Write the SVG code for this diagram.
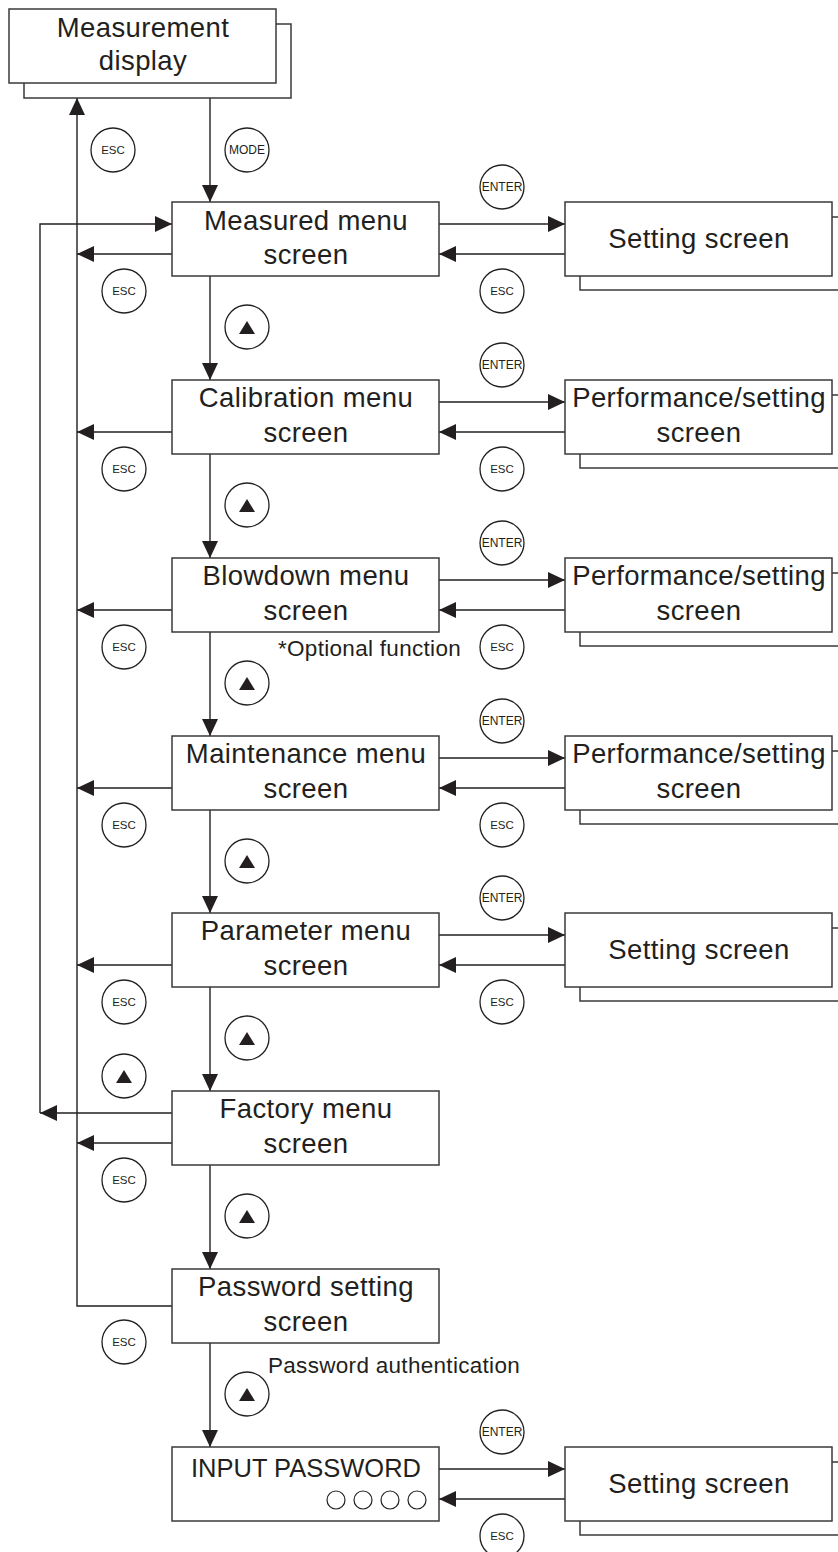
<svg xmlns="http://www.w3.org/2000/svg" width="838" height="1552" viewBox="0 0 838 1552">
<style>
.box{fill:#fff;stroke:#3a3a3a;stroke-width:1.5}
.ln{fill:none;stroke:#231f20;stroke-width:1.4}
.arr{fill:none;stroke:#231f20;stroke-width:1.4;marker-end:url(#ah)}
.t{font-family:"Liberation Sans",Arial,sans-serif;font-size:27.5px;letter-spacing:0.4px;fill:#231f20;text-anchor:middle}
.s{font-family:"Liberation Sans",Arial,sans-serif;font-size:22.5px;letter-spacing:0.3px;fill:#231f20}
.btn{fill:#fff;stroke:#231f20;stroke-width:1.3}
.bl{font-family:"Liberation Sans",Arial,sans-serif;font-size:11.5px;fill:#231f20;text-anchor:middle}
.tri{fill:#231f20}
</style>
<defs>
<marker id="ah" markerUnits="userSpaceOnUse" markerWidth="17" markerHeight="16" refX="17" refY="8" orient="auto" viewBox="0 0 17 16">
<path d="M0,0 L17,8 L0,16 z" fill="#231f20"/>
</marker>
</defs>

<g id="connectors">
<line class="arr" x1="210" y1="98" x2="210" y2="202"/>
<line class="arr" x1="210" y1="276" x2="210" y2="380"/>
<line class="arr" x1="210" y1="454" x2="210" y2="558"/>
<line class="arr" x1="210" y1="632" x2="210" y2="736"/>
<line class="arr" x1="210" y1="810" x2="210" y2="913"/>
<line class="arr" x1="210" y1="987" x2="210" y2="1091"/>
<line class="arr" x1="210" y1="1165" x2="210" y2="1269"/>
<line class="arr" x1="210" y1="1343" x2="210" y2="1447"/>
<polyline class="arr" points="172,1306 77,1306 77,98"/>
<line class="arr" x1="172" y1="254" x2="77" y2="254"/>
<line class="arr" x1="172" y1="432" x2="77" y2="432"/>
<line class="arr" x1="172" y1="610" x2="77" y2="610"/>
<line class="arr" x1="172" y1="788" x2="77" y2="788"/>
<line class="arr" x1="172" y1="965" x2="77" y2="965"/>
<line class="arr" x1="172" y1="1143" x2="77" y2="1143"/>
<line class="arr" x1="172" y1="1113" x2="40" y2="1113"/>
<polyline class="arr" points="40,1113 40,224 172,224"/>
<line class="arr" x1="439" y1="224" x2="565" y2="224"/>
<line class="arr" x1="565" y1="254" x2="439" y2="254"/>
<line class="arr" x1="439" y1="402" x2="565" y2="402"/>
<line class="arr" x1="565" y1="432" x2="439" y2="432"/>
<line class="arr" x1="439" y1="580" x2="565" y2="580"/>
<line class="arr" x1="565" y1="610" x2="439" y2="610"/>
<line class="arr" x1="439" y1="758" x2="565" y2="758"/>
<line class="arr" x1="565" y1="788" x2="439" y2="788"/>
<line class="arr" x1="439" y1="935" x2="565" y2="935"/>
<line class="arr" x1="565" y1="965" x2="439" y2="965"/>
<line class="arr" x1="439" y1="1469" x2="565" y2="1469"/>
<line class="arr" x1="565" y1="1499" x2="439" y2="1499"/>
</g>

<g id="n-measurement-display">
<rect class="box" x="24" y="24" width="267" height="74"/>
<rect class="box" x="9" y="9" width="267" height="74"/>
<text class="t" x="143" y="37">Measurement</text>
<text class="t" x="143" y="70">display</text>
</g>

<g id="n-measured-menu">
<rect class="box" x="172" y="202" width="267" height="74"/>
<text class="t" x="306" y="230">Measured menu</text>
<text class="t" x="306" y="264">screen</text>
</g>
<g id="n-calibration-menu">
<rect class="box" x="172" y="380" width="267" height="74"/>
<text class="t" x="306" y="407">Calibration menu</text>
<text class="t" x="306" y="442">screen</text>
</g>
<g id="n-blowdown-menu">
<rect class="box" x="172" y="558" width="267" height="74"/>
<text class="t" x="306" y="585">Blowdown menu</text>
<text class="t" x="306" y="620">screen</text>
</g>
<g id="n-maintenance-menu">
<rect class="box" x="172" y="736" width="267" height="74"/>
<text class="t" x="306" y="763">Maintenance menu</text>
<text class="t" x="306" y="798">screen</text>
</g>
<g id="n-parameter-menu">
<rect class="box" x="172" y="913" width="267" height="74"/>
<text class="t" x="306" y="940">Parameter menu</text>
<text class="t" x="306" y="975">screen</text>
</g>
<g id="n-factory-menu">
<rect class="box" x="172" y="1091" width="267" height="74"/>
<text class="t" x="306" y="1118">Factory menu</text>
<text class="t" x="306" y="1153">screen</text>
</g>
<g id="n-password-setting">
<rect class="box" x="172" y="1269" width="267" height="74"/>
<text class="t" x="306" y="1296">Password setting</text>
<text class="t" x="306" y="1331">screen</text>
</g>
<g id="n-input-password">
<rect class="box" x="172" y="1447" width="267" height="74"/>
<text x="306" y="1477" style="font-family:'Liberation Sans',Arial,sans-serif;font-size:25.5px;fill:#231f20;text-anchor:middle">INPUT PASSWORD</text>
<circle cx="336" cy="1500" r="9" fill="none" stroke="#231f20" stroke-width="1.2"/>
<circle cx="363" cy="1500" r="9" fill="none" stroke="#231f20" stroke-width="1.2"/>
<circle cx="390" cy="1500" r="9" fill="none" stroke="#231f20" stroke-width="1.2"/>
<circle cx="417" cy="1500" r="9" fill="none" stroke="#231f20" stroke-width="1.2"/>
</g>

<g id="n-setting-1">
<rect class="box" x="580" y="217" width="270" height="73"/>
<rect class="box" x="565" y="202" width="267" height="74"/>
<text class="t" x="699" y="248">Setting screen</text>
</g>
<g id="n-perf-1">
<rect class="box" x="580" y="395" width="270" height="73"/>
<rect class="box" x="565" y="380" width="267" height="74"/>
<text class="t" x="699" y="407">Performance/setting</text>
<text class="t" x="699" y="442">screen</text>
</g>
<g id="n-perf-2">
<rect class="box" x="580" y="573" width="270" height="73"/>
<rect class="box" x="565" y="558" width="267" height="74"/>
<text class="t" x="699" y="585">Performance/setting</text>
<text class="t" x="699" y="620">screen</text>
</g>
<g id="n-perf-3">
<rect class="box" x="580" y="751" width="270" height="73"/>
<rect class="box" x="565" y="736" width="267" height="74"/>
<text class="t" x="699" y="763">Performance/setting</text>
<text class="t" x="699" y="798">screen</text>
</g>
<g id="n-setting-2">
<rect class="box" x="580" y="928" width="270" height="73"/>
<rect class="box" x="565" y="913" width="267" height="74"/>
<text class="t" x="699" y="959">Setting screen</text>
</g>
<g id="n-setting-3">
<rect class="box" x="580" y="1462" width="270" height="73"/>
<rect class="box" x="565" y="1447" width="267" height="74"/>
<text class="t" x="699" y="1493">Setting screen</text>
</g>

<g id="buttons">
<circle class="btn" cx="113" cy="150" r="22"/><text class="bl" x="113" y="154">ESC</text>
<circle class="btn" cx="247" cy="150" r="22"/><text class="bl" x="247" y="154" style="font-size:12px">MODE</text>
<circle class="btn" cx="124" cy="291" r="22"/><text class="bl" x="124" y="295">ESC</text>
<circle class="btn" cx="124" cy="469" r="22"/><text class="bl" x="124" y="473">ESC</text>
<circle class="btn" cx="124" cy="647" r="22"/><text class="bl" x="124" y="651">ESC</text>
<circle class="btn" cx="124" cy="825" r="22"/><text class="bl" x="124" y="829">ESC</text>
<circle class="btn" cx="124" cy="1002" r="22"/><text class="bl" x="124" y="1006">ESC</text>
<circle class="btn" cx="124" cy="1180" r="22"/><text class="bl" x="124" y="1184">ESC</text>
<circle class="btn" cx="124" cy="1342" r="22"/><text class="bl" x="124" y="1346">ESC</text>
<circle class="btn" cx="124" cy="1076" r="22"/><polygon class="tri" points="124,1070 132,1083 116,1083"/>
<circle class="btn" cx="247" cy="327" r="22"/><polygon class="tri" points="247,321 255,334 239,334"/>
<circle class="btn" cx="247" cy="505" r="22"/><polygon class="tri" points="247,499 255,512 239,512"/>
<circle class="btn" cx="247" cy="683" r="22"/><polygon class="tri" points="247,677 255,690 239,690"/>
<circle class="btn" cx="247" cy="861" r="22"/><polygon class="tri" points="247,855 255,868 239,868"/>
<circle class="btn" cx="247" cy="1038" r="22"/><polygon class="tri" points="247,1032 255,1045 239,1045"/>
<circle class="btn" cx="247" cy="1216" r="22"/><polygon class="tri" points="247,1210 255,1223 239,1223"/>
<circle class="btn" cx="247" cy="1394" r="22"/><polygon class="tri" points="247,1388 255,1401 239,1401"/>
<circle class="btn" cx="502" cy="187" r="22"/><text class="bl" x="502" y="191" style="font-size:12px">ENTER</text>
<circle class="btn" cx="502" cy="291" r="22"/><text class="bl" x="502" y="295">ESC</text>
<circle class="btn" cx="502" cy="365" r="22"/><text class="bl" x="502" y="369" style="font-size:12px">ENTER</text>
<circle class="btn" cx="502" cy="469" r="22"/><text class="bl" x="502" y="473">ESC</text>
<circle class="btn" cx="502" cy="543" r="22"/><text class="bl" x="502" y="547" style="font-size:12px">ENTER</text>
<circle class="btn" cx="502" cy="647" r="22"/><text class="bl" x="502" y="651">ESC</text>
<circle class="btn" cx="502" cy="721" r="22"/><text class="bl" x="502" y="725" style="font-size:12px">ENTER</text>
<circle class="btn" cx="502" cy="825" r="22"/><text class="bl" x="502" y="829">ESC</text>
<circle class="btn" cx="502" cy="898" r="22"/><text class="bl" x="502" y="902" style="font-size:12px">ENTER</text>
<circle class="btn" cx="502" cy="1002" r="22"/><text class="bl" x="502" y="1006">ESC</text>
<circle class="btn" cx="502" cy="1432" r="22"/><text class="bl" x="502" y="1436" style="font-size:12px">ENTER</text>
<circle class="btn" cx="502" cy="1536" r="22"/><text class="bl" x="502" y="1540">ESC</text>
</g>

<g id="notes">
<text class="s" x="278" y="656">*Optional function</text>
<text class="s" x="268" y="1373">Password authentication</text>
</g>
</svg>
